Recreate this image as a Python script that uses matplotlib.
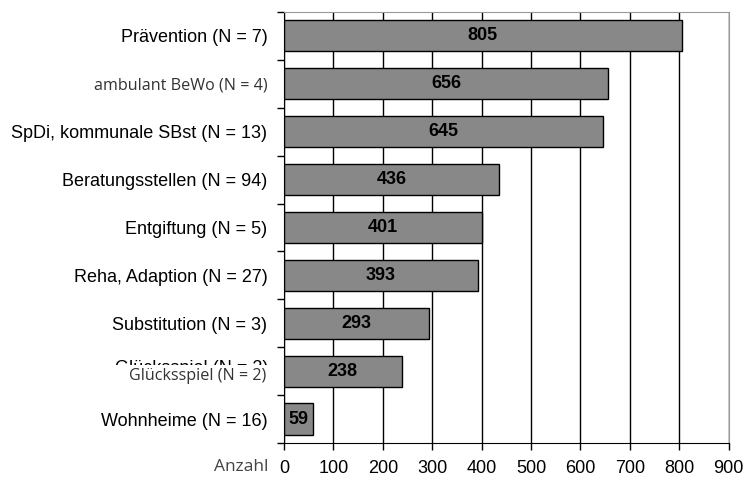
import matplotlib.pyplot as plt
from matplotlib.patches import Rectangle
from matplotlib.transforms import blended_transform_factory
import numpy as np

plt.rcParams['font.family'] = ['Liberation Sans', 'DejaVu Sans']

# data, top to bottom
labels = ['Prävention (N = 7)', 'ambulant BeWo (N = 4)', 'SpDi, kommunale SBst (N = 13)',
          'Beratungsstellen (N = 94)', 'Entgiftung (N = 5)', 'Reha, Adaption (N = 27)',
          'Substitution (N = 3)', 'Glücksspiel (N = 2)', 'Wohnheime (N = 16)']
values = [805, 656, 645, 436, 401, 393, 293, 238, 59]
xticks = [0, 100, 200, 300, 400, 500, 600, 700, 800, 900]

fig = plt.figure(figsize=(7.46, 4.79), dpi=100)
ax = fig.add_axes([0.3807, 0.0752, 0.5960, 0.8998])

y = np.arange(len(values))
bars = ax.barh(y, values, height=0.65, color='#888888', edgecolor='black', linewidth=1)

for b, v in zip(bars, values):
    ax.text(b.get_width() / 2, b.get_y() + b.get_height() / 2, str(v),
            ha='center', va='center', fontsize=13, fontweight='bold')

ax.set_xlim(0, 900)
ax.set_ylim(len(values) - 0.5, -0.5)
ax.set_axisbelow(True)
ax.xaxis.grid(True, color='black', linewidth=1)

ax.set_xticks(xticks)
ax.set_xticklabels([str(t) for t in xticks], fontsize=13)
ax.set_yticks(y)
ylabels_shown = list(labels)
ylabels_shown[7] = ''
ax.set_yticklabels(ylabels_shown, fontsize=13)
ax.tick_params(axis='y', which='major', length=0, pad=12)
ax.set_yticks(np.arange(-0.5, len(values)), minor=True)
ax.tick_params(axis='y', which='minor', length=5, width=1, color='black', direction='out')
ax.tick_params(axis='x', length=5, width=1, direction='out', pad=7)

for s in ['top', 'right']:
    ax.spines[s].set_color('#999999')
for s in ['left', 'bottom']:
    ax.spines[s].set_color('black')

# label set in another font
ylab = ax.get_yticklabels()
ylab[1].set_fontfamily('Open Sans')
ylab[1].set_fontsize(11.6)
ylab[1].set_color('#333333')

# old Glücksspiel label, mostly covered by a white patch with the new text on top
tr = blended_transform_factory(fig.transFigure, ax.transData)
ax.text(268 / 746, 6.9, labels[7], transform=tr, ha='right', va='center_baseline',
        fontsize=13, clip_on=False)
ax.add_patch(Rectangle((110 / 746, 1 - 390 / 479), 162 / 746, 25 / 479,
                       transform=fig.transFigure, facecolor='white', edgecolor='none',
                       clip_on=False, zorder=4))
ax.text(266 / 746, 7.1, labels[7], transform=tr, ha='right', va='center',
        fontsize=11.6, family='Open Sans', color='#333333', clip_on=False, zorder=5)

fig.text(268 / 746, 1 - 467 / 479, 'Anzahl', ha='right', va='center',
         fontsize=12.5, family='Open Sans', color='#444444')

fig.savefig('out.png', dpi=100)
